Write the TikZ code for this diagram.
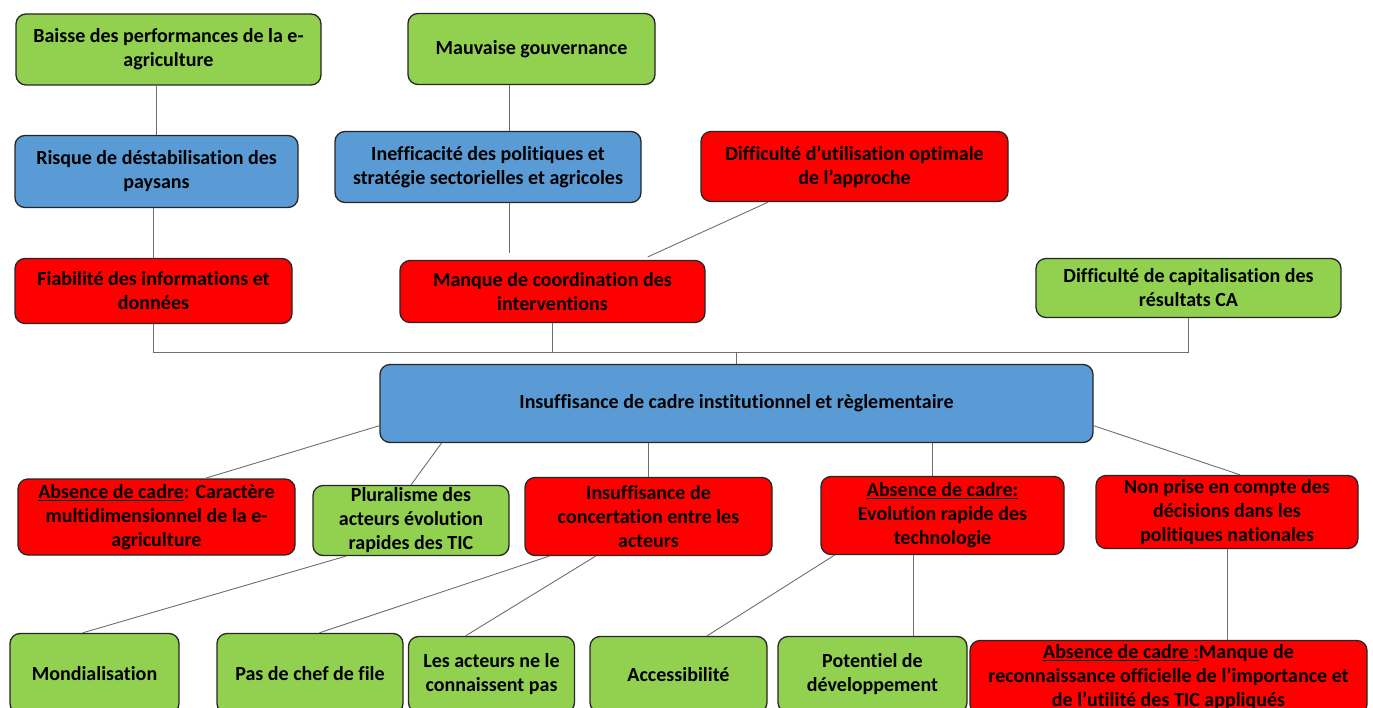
\documentclass[tikz,border=0pt]{standalone}
\usepackage{fontspec}
\setmainfont{Carlito}[Ligatures=CommonOff]
\usetikzlibrary{calc}
\definecolor{cgreen}{HTML}{92D050}
\definecolor{cblue}{HTML}{5B9BD5}
\definecolor{cred}{HTML}{FF0000}
\definecolor{cline}{HTML}{6E6E6E}
\definecolor{cborder}{HTML}{262626}
\begin{document}
\begin{tikzpicture}[x=1pt,y=-1pt,
  box/.style={draw=cborder, line width=1.3pt, rounded corners=10pt, align=center,
    font=\bfseries\fontsize{20}{24}\selectfont, inner sep=0pt},
  gbox/.style={box, fill=cgreen},
  bbox/.style={box, fill=cblue},
  rbox/.style={box, fill=cred},
  link/.style={draw=cline, line width=0.9pt}]
\useasboundingbox (0,0) rectangle (1373,708);

% top rows
\node[gbox, minimum width=305pt, minimum height=71pt] (baisse) at (168.5,49.5) {Baisse des performances de la e-\\agriculture};
\node[gbox, minimum width=247pt, minimum height=71pt] (mauv) at (531.5,49) {Mauvaise gouvernance};
\node[bbox, minimum width=283pt, minimum height=72pt] (risque) at (156.5,171.5) {Risque de déstabilisation des\\paysans};
\node[bbox, minimum width=306pt, minimum height=71pt] (ineff) at (488,167) {Inefficacité des politiques et\\stratégie sectorielles et agricoles};
\node[rbox, minimum width=307pt, minimum height=70pt] (diffu) at (854.5,166.5) {Difficulté d’utilisation optimale\\de l’approche};
\node[rbox, minimum width=277pt, minimum height=65pt] (fiab) at (153.5,291) {Fiabilité des informations et\\données};
\node[rbox, minimum width=305pt, minimum height=62pt] (manque) at (552.5,291.5) {Manque de coordination des\\interventions};
\node[gbox, minimum width=305pt, minimum height=59pt] (capit) at (1188.5,288) {Difficulté de capitalisation des\\résultats CA};

% central
\node[bbox, minimum width=713pt, minimum height=78pt] (central) at (736.5,403.5) {Insuffisance de cadre institutionnel et règlementaire};

% middle row
\node[rbox, minimum width=277pt, minimum height=76pt] (abs1) at (156.5,517) {\underline{Absence de cadre}: Caractère\\multidimensionnel de la e-\\agriculture};
\node[gbox, minimum width=196pt, minimum height=70pt] (plur) at (411,520.5) {Pluralisme des\\acteurs évolution\\rapides des TIC};
\node[rbox, minimum width=247pt, minimum height=78pt] (insuf) at (648.5,516.5) {Insuffisance de\\concertation entre les\\acteurs};
\node[rbox, minimum width=243pt, minimum height=78pt] (abs2) at (942.5,515.5) {\underline{Absence de cadre:}\\Evolution rapide des\\technologie};
\node[rbox, minimum width=262pt, minimum height=73pt] (nonp) at (1227,512) {Non prise en compte des\\décisions dans les\\politiques nationales};

% bottom row
\node[gbox, minimum width=169pt, minimum height=80pt] (mond) at (94.5,673.5) {Mondialisation};
\node[gbox, minimum width=186pt, minimum height=80pt] (pas) at (310,673.5) {Pas de chef de file};
\node[gbox, minimum width=166pt, minimum height=76pt] (acteurs) at (491.5,674.5) {Les acteurs ne le\\connaissent pas};
\node[gbox, minimum width=177pt, minimum height=76pt] (access) at (678.5,674.5) {Accessibilité};
\node[gbox, minimum width=189pt, minimum height=76pt] (potent) at (872.5,674.5) {Potentiel de\\développement};
\node[rbox, minimum width=397pt, minimum height=74pt] (absM) at (1168.5,677.5) {\underline{Absence de cadre :}Manque de\\reconnaissance officielle de l’importance et\\de l’utilité des TIC appliqués};

% coordinates
\coordinate (junc) at ($(central.north)+(0,-11)$);
\coordinate (ineffT) at ($(ineff.north west)!0.57!(ineff.north east)$);
\coordinate (ineffB) at ($(ineff.south west)!0.57!(ineff.south east)$);
\coordinate (abs2T) at ($(abs2.north west)!0.46!(abs2.north east)$);
\coordinate (abs2B) at ($(abs2.south west)!0.38!(abs2.south east)$);

% connectors top
\draw[link] (risque.north) -- (risque.north |- baisse.south);
\draw[link] (fiab.north) -- (fiab.north |- risque.south);
\draw[link] (ineffT) -- (ineffT |- mauv.south);
\draw[link, shorten >=7pt] (ineffB) -- (ineffB |- manque.north);
\draw[link, shorten >=7pt] ($(diffu.south west)!0.22!(diffu.south east)$) -- ($(manque.north west)!0.79!(manque.north east)$);
\draw[link] (fiab.south) |- (capit.south |- junc) -- (capit.south);
\draw[link] (manque.south) -- (manque.south |- junc);
\draw[link] (central.north) -- (junc);

% connectors central to middle row
\draw[link] ($(central.north west)!0.78!(central.south west)$) -- ($(abs1.north west)!0.675!(abs1.north east)$);
\draw[link] ($(central.south west)!0.087!(central.south east)$) -- (plur.north);
\draw[link] (insuf.north) -- (insuf.north |- central.south);
\draw[link] (abs2T) -- (abs2T |- central.south);
\draw[link] ($(central.north east)!0.78!(central.south east)$) -- ($(nonp.north west)!0.55!(nonp.north east)$);

% connectors middle to bottom
\draw[link] ($(plur.south west)!0.17!(plur.south east)$) -- ($(mond.north west)!0.43!(mond.north east)$);
\draw[link] ($(insuf.south west)!0.1!(insuf.south east)$) -- ($(pas.north west)!0.55!(pas.north east)$);
\draw[link] ($(insuf.south west)!0.287!(insuf.south east)$) -- ($(acteurs.north west)!0.345!(acteurs.north east)$);
\draw[link] ($(abs2.south west)!0.058!(abs2.south east)$) -- ($(access.north west)!0.66!(access.north east)$);
\draw[link] (abs2B) -- (abs2B |- potent.north);
\draw[link] (nonp.south) -- (nonp.south |- absM.north);
\end{tikzpicture}
\end{document}
